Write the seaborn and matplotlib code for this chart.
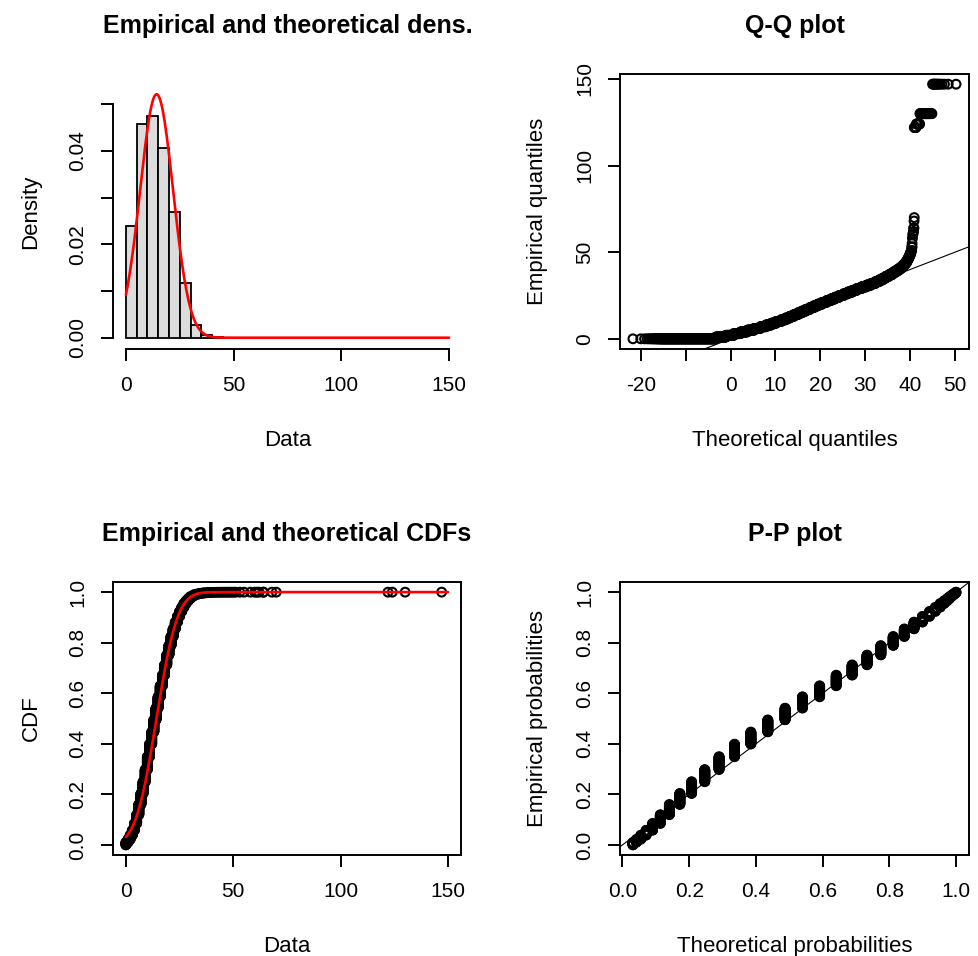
import numpy as np
import pandas as pd
import matplotlib
matplotlib.use("Agg")
import matplotlib.pyplot as plt
import seaborn as sns
from statistics import NormalDist

# ---------------- data (integer observations given as value / count) ----------------
values = list(range(0, 46)) + [46, 47, 48, 49, 50, 51, 53, 55, 58, 60, 61, 62, 64, 68, 70,
                               122, 124, 130, 147]
counts = [4400, 4800, 6400, 8000, 10800, 14000,
          16400, 17600, 18800, 19600, 20400,
          20400, 19600, 19200, 18800, 18000,
          17600, 17200, 16400, 16000, 15200,
          14000, 12400, 10800, 9200, 8000,
          6800, 5600, 4400, 3600, 3200,
          2000, 1400, 1000, 680, 440,
          400, 280, 200, 160, 120,
          80, 60, 40, 30, 20,
          18, 15, 12, 10, 8, 6, 5, 4, 4, 5, 4, 3, 3, 2, 1,
          20, 25, 40, 12]

titles = ["Empirical and theoretical dens.", "Q-Q plot",
          "Empirical and theoretical CDFs", "P-P plot"]
xlabels = ["Data", "Theoretical quantiles", "Data", "Theoretical probabilities"]
ylabels = ["Density", "Empirical quantiles", "CDF", "Empirical probabilities"]
hist_breaks = list(range(0, 155, 5))
data_ticks = [0, 50, 100, 150]
dens_ticks = [0.00, 0.01, 0.02, 0.03, 0.04, 0.05]
dens_ticklabels = ["0.00", "", "0.02", "", "0.04", ""]
qq_xticks = [-20, -10, 0, 10, 20, 30, 40, 50]
qq_xticklabels = ["-20", "", "0", "10", "20", "30", "40", "50"]
qq_yticks = [0, 50, 100, 150]
prob_ticks = [0.0, 0.2, 0.4, 0.6, 0.8, 1.0]
prob_ticklabels = ["0.0", "0.2", "0.4", "0.6", "0.8", "1.0"]

# ---------------- derived quantities (normal fit by MLE) ----------------
data = np.repeat(np.array(values, dtype=float), counts)
n = data.size
mu = data.mean()
sigma = data.std()
nd = NormalDist(mu, sigma)
pp = (np.arange(1, n + 1) - 0.5) / n

sns.set_style("white")
plt.rcParams["font.family"] = ["Liberation Sans", "DejaVu Sans"]
plt.rcParams.update({"text.color": "black", "axes.labelcolor": "black",
                     "xtick.color": "black", "ytick.color": "black"})

W, H = 979, 956
fig = plt.figure(figsize=(W / 100, H / 100), dpi=100)


def add_ax(l, t, r, b):
    return fig.add_axes([l / W, 1 - b / H, (r - l) / W, (b - t) / H])


def ext(lo, hi):
    r = hi - lo
    return lo - 0.04 * r, hi + 0.04 * r


def thin(x, y, rx, ry):
    qx = np.round(np.asarray(x) / rx)
    qy = np.round(np.asarray(y) / ry)
    keep = np.r_[True, (np.diff(qx) != 0) | (np.diff(qy) != 0)]
    return np.asarray(x)[keep], np.asarray(y)[keep]


LW = 1.4
TICK_FS = 15
LAB_FS = 16


def style(ax, title, xl, yl, box=True):
    for s in ax.spines.values():
        s.set_linewidth(LW)
        s.set_color("black")
    if not box:
        ax.spines["top"].set_visible(False)
        ax.spines["right"].set_visible(False)
    ax.tick_params(direction="out", length=8.6, width=LW, labelsize=TICK_FS,
                   colors="black", labelcolor="black", pad=11,
                   bottom=True, left=True, top=False, right=False)
    ax.tick_params(axis="y", pad=10)
    plt.setp(ax.get_yticklabels(), rotation=90, va="center")
    ax.set_title(title, fontsize=18, fontweight="bold", pad=29.5, color="black")
    ax.set_xlabel(xl, fontsize=LAB_FS, color="black")
    ax.set_ylabel(yl, fontsize=LAB_FS, color="black")
    ax.xaxis.set_label_coords(0.5, -0.295)
    ax.yaxis.set_label_coords(-0.205, 0.5)
    ax.grid(False)


scatter_kw = dict(marker="o", s=40, facecolor="none", edgecolor="black",
                  linewidth=1.5, legend=False)

# ---------------- 1. histogram + density ----------------
ax1 = add_ax(113, 74, 462, 349)
shifted = np.array(hist_breaks, float) + 0.5
shifted[0] = -0.5                      # right-closed bins as in R's hist()
hcounts, _ = np.histogram(data, bins=shifted)
centers = np.array(hist_breaks[:-1], float) + 2.5
sns.histplot(x=centers, weights=hcounts, bins=hist_breaks, stat="density",
             color="#DCDCDC", edgecolor="black", linewidth=1.3, alpha=1, ax=ax1)
grid = np.linspace(0, 150, 301)
pdf = np.array([nd.pdf(v) for v in grid])
sns.lineplot(x=grid, y=pdf, color="red", linewidth=1.9, ax=ax1)
ax1.set_xlim(-6, 156)
ax1.set_ylim(-0.00242, 0.0565)
ax1.set_xticks(data_ticks, [str(t) for t in data_ticks])
ax1.set_yticks(dens_ticks, dens_ticklabels)
ax1.spines["left"].set_bounds(0, 0.05)
ax1.spines["bottom"].set_bounds(0, 150)
style(ax1, titles[0], xlabels[0], ylabels[0], box=False)

# ---------------- 2. Q-Q plot ----------------
ax2 = add_ax(620, 74, 969, 349)
theo_q = np.array([nd.inv_cdf(p) for p in pp])
qx, qy = thin(theo_q, data, 0.08, 0.3)
sns.scatterplot(x=qx, y=qy, ax=ax2, **scatter_kw)
ax2.axline((0, 0), (1, 1), color="black", linewidth=0.8)
ax2.set_xlim(*ext(theo_q.min(), theo_q.max()))
ax2.set_ylim(*ext(data.min(), data.max()))
ax2.set_xticks(qq_xticks, qq_xticklabels)
ax2.set_yticks(qq_yticks, [str(t) for t in qq_yticks])
style(ax2, titles[1], xlabels[1], ylabels[1])

# ---------------- 3. CDF plot ----------------
ax3 = add_ax(113, 582, 461, 855)
cx, cy = thin(data, pp, 0.2, 0.0015)
sns.scatterplot(x=cx, y=cy, ax=ax3, **scatter_kw)
cdf = np.array([nd.cdf(v) for v in grid])
sns.lineplot(x=grid, y=cdf, color="red", linewidth=1.9, ax=ax3)
ax3.set_xlim(-6, 156)
ax3.set_ylim(*ext(pp.min(), pp.max()))
ax3.set_xticks(data_ticks, [str(t) for t in data_ticks])
ax3.set_yticks(prob_ticks, prob_ticklabels)
style(ax3, titles[2], xlabels[2], ylabels[2])

# ---------------- 4. P-P plot ----------------
ax4 = add_ax(620, 582, 969, 855)
uvals = np.unique(data)
fmap = {v: nd.cdf(v) for v in uvals}
theo_p = np.array([fmap[v] for v in uvals])[np.searchsorted(uvals, data)]
px, py = thin(theo_p, pp, 0.0015, 0.0015)
sns.scatterplot(x=px, y=py, ax=ax4, **scatter_kw)
ax4.axline((0, 0), (1, 1), color="black", linewidth=0.8)
ax4.set_xlim(*ext(theo_p.min(), theo_p.max()))
ax4.set_ylim(*ext(pp.min(), pp.max()))
ax4.set_xticks(prob_ticks, prob_ticklabels)
ax4.set_yticks(prob_ticks, prob_ticklabels)
style(ax4, titles[3], xlabels[3], ylabels[3])

fig.savefig("out.png", dpi=100, facecolor="white")
